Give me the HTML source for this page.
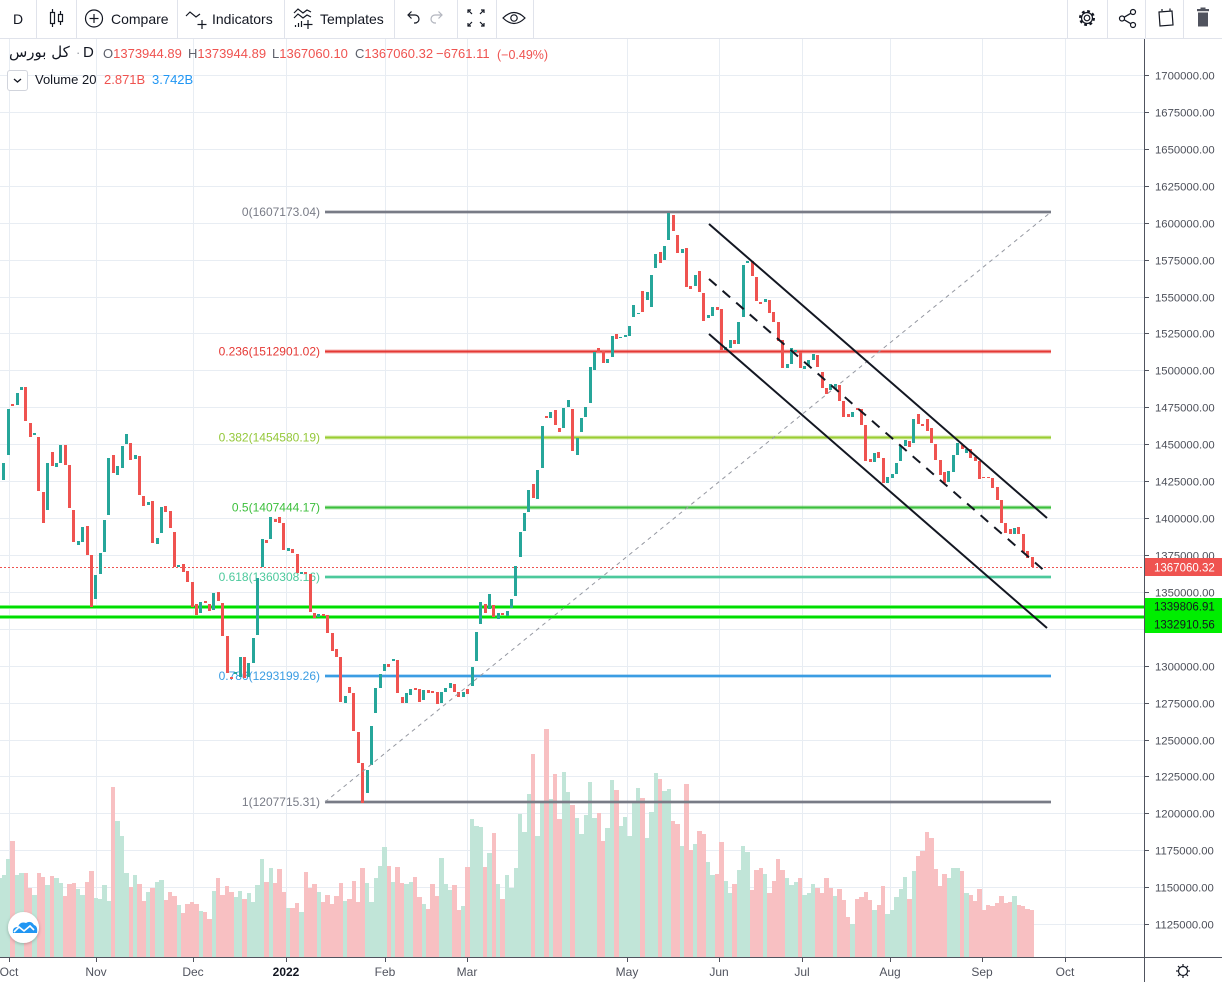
<!DOCTYPE html>
<html><head><meta charset="utf-8">
<style>
*{margin:0;padding:0;box-sizing:border-box}
body{width:1222px;height:982px;overflow:hidden;background:#fff;font-family:"Liberation Sans",sans-serif;position:relative;color:#131722}
svg{position:absolute;left:0;top:0}
#vol{position:absolute;left:-2.7px;top:0;height:957px;display:flex;align-items:flex-end}
#vol i{display:block;flex:none;width:4.385px}
#vol .g{background:#c1e5d8}
#vol .r{background:#f8c0c2}
#cd{position:absolute;left:-2.7px;top:0;display:flex;align-items:flex-start}
#cd i{display:block;flex:none;width:3px;margin:0 0.6925px}
#cd .g{background:#26a69a}
#cd .r{background:#ef5350}
#tb{position:absolute;left:0;top:0;width:1222px;height:39px;background:#fff;border-bottom:1px solid #e0e3eb;font-size:14px}
#tb .t{position:absolute;top:11px;line-height:16px;color:#131722}
#tb .s{position:absolute;top:0;width:1px;height:38px;background:#e0e3eb}
.lg{position:absolute;font-size:13px;line-height:16px;white-space:nowrap}
</style></head><body>

<!-- grid -->
<svg width="1222" height="982">
<g stroke="#e8edf3" stroke-width="1">
<line x1="0" x2="1144" y1="75.5" y2="75.5"/><line x1="0" x2="1144" y1="112.5" y2="112.5"/><line x1="0" x2="1144" y1="149.5" y2="149.5"/><line x1="0" x2="1144" y1="186.5" y2="186.5"/><line x1="0" x2="1144" y1="223.5" y2="223.5"/><line x1="0" x2="1144" y1="260.5" y2="260.5"/><line x1="0" x2="1144" y1="297.5" y2="297.5"/><line x1="0" x2="1144" y1="333.5" y2="333.5"/><line x1="0" x2="1144" y1="370.5" y2="370.5"/><line x1="0" x2="1144" y1="407.5" y2="407.5"/><line x1="0" x2="1144" y1="444.5" y2="444.5"/><line x1="0" x2="1144" y1="481.5" y2="481.5"/><line x1="0" x2="1144" y1="518.5" y2="518.5"/><line x1="0" x2="1144" y1="555.5" y2="555.5"/><line x1="0" x2="1144" y1="592.5" y2="592.5"/><line x1="0" x2="1144" y1="629.5" y2="629.5"/><line x1="0" x2="1144" y1="666.5" y2="666.5"/><line x1="0" x2="1144" y1="703.5" y2="703.5"/><line x1="0" x2="1144" y1="740.5" y2="740.5"/><line x1="0" x2="1144" y1="776.5" y2="776.5"/><line x1="0" x2="1144" y1="813.5" y2="813.5"/><line x1="0" x2="1144" y1="850.5" y2="850.5"/><line x1="0" x2="1144" y1="887.5" y2="887.5"/><line x1="0" x2="1144" y1="924.5" y2="924.5"/>
<line x1="9.5" x2="9.5" y1="39" y2="957"/><line x1="96.5" x2="96.5" y1="39" y2="957"/><line x1="193.5" x2="193.5" y1="39" y2="957"/><line x1="286.5" x2="286.5" y1="39" y2="957"/><line x1="385.5" x2="385.5" y1="39" y2="957"/><line x1="467.5" x2="467.5" y1="39" y2="957"/><line x1="627.5" x2="627.5" y1="39" y2="957"/><line x1="719.5" x2="719.5" y1="39" y2="957"/><line x1="802.5" x2="802.5" y1="39" y2="957"/><line x1="890.5" x2="890.5" y1="39" y2="957"/><line x1="982.5" x2="982.5" y1="39" y2="957"/><line x1="1065.5" x2="1065.5" y1="39" y2="957"/>
</g>
</svg>

<!-- volume -->
<div id="vol">
<i class="g" style="height:79px"></i><i class="g" style="height:82px"></i><i class="g" style="height:98px"></i><i class="r" style="height:116px"></i><i class="g" style="height:82px"></i><i class="g" style="height:84px"></i><i class="r" style="height:84px"></i><i class="r" style="height:69px"></i><i class="g" style="height:62px"></i><i class="r" style="height:84px"></i>
<i class="r" style="height:80px"></i><i class="g" style="height:72px"></i><i class="r" style="height:81px"></i><i class="g" style="height:79px"></i><i class="g" style="height:74px"></i><i class="r" style="height:61px"></i><i class="r" style="height:73px"></i><i class="r" style="height:74px"></i><i class="g" style="height:68px"></i><i class="g" style="height:62px"></i>
<i class="r" style="height:75px"></i><i class="r" style="height:86px"></i><i class="g" style="height:59px"></i><i class="g" style="height:58px"></i><i class="g" style="height:72px"></i><i class="g" style="height:56px"></i><i class="r" style="height:170px"></i><i class="g" style="height:136px"></i><i class="g" style="height:121px"></i><i class="g" style="height:84px"></i>
<i class="r" style="height:70px"></i><i class="g" style="height:82px"></i><i class="r" style="height:73px"></i><i class="r" style="height:56px"></i><i class="g" style="height:65px"></i><i class="r" style="height:69px"></i><i class="g" style="height:75px"></i><i class="g" style="height:77px"></i><i class="r" style="height:57px"></i><i class="r" style="height:65px"></i>
<i class="r" style="height:61px"></i><i class="g" style="height:52px"></i><i class="r" style="height:44px"></i><i class="r" style="height:53px"></i><i class="r" style="height:55px"></i><i class="r" style="height:53px"></i><i class="g" style="height:46px"></i><i class="r" style="height:45px"></i><i class="r" style="height:38px"></i><i class="g" style="height:66px"></i>
<i class="r" style="height:79px"></i><i class="r" style="height:62px"></i><i class="r" style="height:71px"></i><i class="r" style="height:65px"></i><i class="g" style="height:60px"></i><i class="g" style="height:66px"></i><i class="r" style="height:58px"></i><i class="g" style="height:64px"></i><i class="g" style="height:55px"></i><i class="g" style="height:72px"></i>
<i class="g" style="height:98px"></i><i class="r" style="height:75px"></i><i class="g" style="height:89px"></i><i class="r" style="height:74px"></i><i class="r" style="height:88px"></i><i class="r" style="height:65px"></i><i class="g" style="height:49px"></i><i class="r" style="height:49px"></i><i class="r" style="height:54px"></i><i class="g" style="height:45px"></i>
<i class="r" style="height:85px"></i><i class="r" style="height:69px"></i><i class="r" style="height:73px"></i><i class="g" style="height:65px"></i><i class="r" style="height:55px"></i><i class="r" style="height:62px"></i><i class="r" style="height:53px"></i><i class="r" style="height:61px"></i><i class="r" style="height:74px"></i><i class="g" style="height:56px"></i>
<i class="r" style="height:58px"></i><i class="r" style="height:76px"></i><i class="r" style="height:55px"></i><i class="r" style="height:89px"></i><i class="g" style="height:74px"></i><i class="g" style="height:55px"></i><i class="g" style="height:79px"></i><i class="g" style="height:91px"></i><i class="g" style="height:110px"></i><i class="r" style="height:91px"></i>
<i class="g" style="height:75px"></i><i class="r" style="height:90px"></i><i class="r" style="height:74px"></i><i class="g" style="height:73px"></i><i class="g" style="height:75px"></i><i class="r" style="height:80px"></i><i class="r" style="height:60px"></i><i class="g" style="height:53px"></i><i class="r" style="height:48px"></i><i class="r" style="height:73px"></i>
<i class="r" style="height:61px"></i><i class="g" style="height:99px"></i><i class="g" style="height:73px"></i><i class="g" style="height:67px"></i><i class="r" style="height:72px"></i><i class="r" style="height:47px"></i><i class="g" style="height:51px"></i><i class="r" style="height:90px"></i><i class="g" style="height:138px"></i><i class="g" style="height:131px"></i>
<i class="g" style="height:130px"></i><i class="r" style="height:90px"></i><i class="g" style="height:104px"></i><i class="r" style="height:124px"></i><i class="g" style="height:73px"></i><i class="r" style="height:58px"></i><i class="g" style="height:82px"></i><i class="g" style="height:69px"></i><i class="g" style="height:89px"></i><i class="g" style="height:143px"></i>
<i class="g" style="height:125px"></i><i class="g" style="height:163px"></i><i class="r" style="height:203px"></i><i class="g" style="height:121px"></i><i class="g" style="height:156px"></i><i class="r" style="height:228px"></i><i class="g" style="height:158px"></i><i class="r" style="height:183px"></i><i class="r" style="height:138px"></i><i class="g" style="height:185px"></i>
<i class="g" style="height:165px"></i><i class="r" style="height:152px"></i><i class="g" style="height:139px"></i><i class="g" style="height:123px"></i><i class="g" style="height:142px"></i><i class="g" style="height:175px"></i><i class="g" style="height:139px"></i><i class="r" style="height:144px"></i><i class="r" style="height:116px"></i><i class="g" style="height:129px"></i>
<i class="g" style="height:177px"></i><i class="r" style="height:167px"></i><i class="g" style="height:131px"></i><i class="g" style="height:140px"></i><i class="g" style="height:121px"></i><i class="g" style="height:156px"></i><i class="g" style="height:169px"></i><i class="r" style="height:159px"></i><i class="g" style="height:119px"></i><i class="g" style="height:145px"></i>
<i class="g" style="height:184px"></i><i class="r" style="height:178px"></i><i class="g" style="height:166px"></i><i class="g" style="height:168px"></i><i class="r" style="height:136px"></i><i class="r" style="height:133px"></i><i class="g" style="height:111px"></i><i class="r" style="height:173px"></i><i class="r" style="height:107px"></i><i class="g" style="height:113px"></i>
<i class="r" style="height:126px"></i><i class="r" style="height:123px"></i><i class="g" style="height:95px"></i><i class="g" style="height:82px"></i><i class="r" style="height:83px"></i><i class="r" style="height:115px"></i><i class="g" style="height:76px"></i><i class="g" style="height:64px"></i><i class="r" style="height:73px"></i><i class="g" style="height:87px"></i>
<i class="g" style="height:111px"></i><i class="g" style="height:105px"></i><i class="r" style="height:67px"></i><i class="r" style="height:87px"></i><i class="r" style="height:89px"></i><i class="g" style="height:83px"></i><i class="r" style="height:64px"></i><i class="r" style="height:76px"></i><i class="r" style="height:98px"></i><i class="r" style="height:87px"></i>
<i class="g" style="height:79px"></i><i class="g" style="height:72px"></i><i class="g" style="height:75px"></i><i class="r" style="height:79px"></i><i class="g" style="height:62px"></i><i class="g" style="height:64px"></i><i class="g" style="height:73px"></i><i class="r" style="height:69px"></i><i class="r" style="height:64px"></i><i class="r" style="height:79px"></i>
<i class="r" style="height:69px"></i><i class="g" style="height:61px"></i><i class="r" style="height:68px"></i><i class="r" style="height:57px"></i><i class="r" style="height:40px"></i><i class="g" style="height:33px"></i><i class="r" style="height:58px"></i><i class="r" style="height:60px"></i><i class="r" style="height:65px"></i><i class="r" style="height:57px"></i>
<i class="g" style="height:47px"></i><i class="r" style="height:52px"></i><i class="r" style="height:71px"></i><i class="g" style="height:43px"></i><i class="g" style="height:47px"></i><i class="g" style="height:60px"></i><i class="g" style="height:68px"></i><i class="g" style="height:80px"></i><i class="r" style="height:58px"></i><i class="g" style="height:86px"></i>
<i class="r" style="height:101px"></i><i class="r" style="height:106px"></i><i class="r" style="height:125px"></i><i class="r" style="height:119px"></i><i class="r" style="height:88px"></i><i class="r" style="height:71px"></i><i class="r" style="height:83px"></i><i class="g" style="height:79px"></i><i class="g" style="height:89px"></i><i class="g" style="height:89px"></i>
<i class="r" style="height:86px"></i><i class="g" style="height:64px"></i><i class="r" style="height:62px"></i><i class="r" style="height:56px"></i><i class="r" style="height:68px"></i><i class="r" style="height:47px"></i><i class="r" style="height:52px"></i><i class="r" style="height:51px"></i><i class="r" style="height:54px"></i><i class="r" style="height:61px"></i>
<i class="r" style="height:54px"></i><i class="r" style="height:55px"></i><i class="g" style="height:61px"></i><i class="r" style="height:52px"></i><i class="r" style="height:51px"></i><i class="r" style="height:48px"></i><i class="r" style="height:47px"></i>
</div>

<!-- fib levels & horizontal lines -->
<svg width="1222" height="982" font-family="Liberation Sans" font-size="12">
<g stroke-width="4" opacity="0.35">
<line x1="325" x2="1051" y1="212" y2="212" stroke="#787b86"/>
<line x1="325" x2="1051" y1="351.5" y2="351.5" stroke="#e53935"/>
<line x1="325" x2="1051" y1="437.5" y2="437.5" stroke="#9acd32"/>
<line x1="325" x2="1051" y1="507.5" y2="507.5" stroke="#3cbf3c"/>
<line x1="325" x2="1051" y1="577" y2="577" stroke="#4cc99c"/>
<line x1="325" x2="1051" y1="676" y2="676" stroke="#3b9de3"/>
<line x1="325" x2="1051" y1="802" y2="802" stroke="#787b86"/>
</g>
<g stroke-width="2">
<line x1="325" x2="1051" y1="212" y2="212" stroke="#787b86"/>
<line x1="325" x2="1051" y1="351.5" y2="351.5" stroke="#e53935"/>
<line x1="325" x2="1051" y1="437.5" y2="437.5" stroke="#9acd32"/>
<line x1="325" x2="1051" y1="507.5" y2="507.5" stroke="#3cbf3c"/>
<line x1="325" x2="1051" y1="577" y2="577" stroke="#4cc99c"/>
<line x1="325" x2="1051" y1="676" y2="676" stroke="#3b9de3"/>
<line x1="325" x2="1051" y1="802" y2="802" stroke="#787b86"/>
</g>
<g text-anchor="end">
<text x="320" y="216" fill="#787b86">0(1607173.04)</text>
<text x="320" y="355.5" fill="#e53935">0.236(1512901.02)</text>
<text x="320" y="441.5" fill="#94c83a">0.382(1454580.19)</text>
<text x="320" y="511.5" fill="#3cbf3c">0.5(1407444.17)</text>
<text x="320" y="581" fill="#4cc99c">0.618(1360308.16)</text>
<text x="320" y="680" fill="#3b9de3">0.786(1293199.26)</text>
<text x="320" y="806" fill="#787b86">1(1207715.31)</text>
</g>
<line x1="0" x2="1144" y1="607" y2="607" stroke="#7ef27e" stroke-width="4"/>
<line x1="0" x2="1144" y1="617" y2="617" stroke="#7ef27e" stroke-width="4"/>
<line x1="0" x2="1144" y1="607" y2="607" stroke="#00dd00" stroke-width="2"/>
<line x1="0" x2="1144" y1="617" y2="617" stroke="#00dd00" stroke-width="2"/>
<line x1="0" x2="1144" y1="567.5" y2="567.5" stroke="#ef5350" stroke-width="1" stroke-dasharray="2 2"/>
</svg>

<!-- candles -->
<div id="cd">
<i style="height:0"></i>
<i class="g" style="margin-top:463px;height:17px"></i><i class="g" style="margin-top:409px;height:46px"></i><i class="r" style="margin-top:404px;height:2px"></i><i class="g" style="margin-top:393px;height:12px"></i><i class="g" style="margin-top:387px;height:3px"></i><i class="r" style="margin-top:387px;height:34px"></i><i class="r" style="margin-top:423px;height:14px"></i><i class="g" style="margin-top:433px;height:2px"></i><i class="r" style="margin-top:437px;height:54px"></i>
<i class="r" style="margin-top:492px;height:31px"></i><i class="g" style="margin-top:463px;height:47px"></i><i class="r" style="margin-top:452px;height:14px"></i><i class="g" style="margin-top:463px;height:4px"></i><i class="g" style="margin-top:445px;height:18px"></i><i class="r" style="margin-top:445px;height:20px"></i><i class="r" style="margin-top:465px;height:43px"></i><i class="r" style="margin-top:510px;height:32px"></i><i class="g" style="margin-top:541px;height:4px"></i><i class="g" style="margin-top:527px;height:15px"></i>
<i class="r" style="margin-top:526px;height:29px"></i><i class="r" style="margin-top:555px;height:52px"></i><i class="g" style="margin-top:575px;height:24px"></i><i class="g" style="margin-top:553px;height:21px"></i><i class="g" style="margin-top:520px;height:32px"></i><i class="g" style="margin-top:458px;height:57px"></i><i class="r" style="margin-top:455px;height:18px"></i><i class="g" style="margin-top:466px;height:9px"></i><i class="g" style="margin-top:446px;height:22px"></i><i class="g" style="margin-top:434px;height:10px"></i>
<i class="r" style="margin-top:443px;height:17px"></i><i class="g" style="margin-top:455px;height:4px"></i><i class="r" style="margin-top:456px;height:39px"></i><i class="r" style="margin-top:496px;height:10px"></i><i class="g" style="margin-top:502px;height:3px"></i><i class="r" style="margin-top:501px;height:42px"></i><i class="g" style="margin-top:538px;height:6px"></i><i class="g" style="margin-top:507px;height:26px"></i><i class="r" style="margin-top:506px;height:6px"></i><i class="r" style="margin-top:511px;height:17px"></i>
<i class="r" style="margin-top:532px;height:35px"></i><i class="g" style="margin-top:565px;height:2px"></i><i class="r" style="margin-top:564px;height:8px"></i><i class="r" style="margin-top:571px;height:11px"></i><i class="r" style="margin-top:582px;height:25px"></i><i class="r" style="margin-top:604px;height:11px"></i><i class="g" style="margin-top:602px;height:11px"></i><i class="r" style="margin-top:601px;height:2px"></i><i class="r" style="margin-top:604px;height:7px"></i><i class="g" style="margin-top:593px;height:17px"></i>
<i class="r" style="margin-top:592px;height:9px"></i><i class="r" style="margin-top:603px;height:33px"></i><i class="r" style="margin-top:636px;height:37px"></i><i class="r" style="margin-top:677px;height:2px"></i><i class="g" style="margin-top:672px;height:2px"></i><i class="g" style="margin-top:657px;height:20px"></i><i class="r" style="margin-top:657px;height:21px"></i><i class="g" style="margin-top:663px;height:14px"></i><i class="g" style="margin-top:638px;height:25px"></i><i class="g" style="margin-top:578px;height:57px"></i>
<i class="g" style="margin-top:539px;height:28px"></i><i class="r" style="margin-top:540px;height:3px"></i><i class="g" style="margin-top:517px;height:22px"></i><i class="r" style="margin-top:519px;height:3px"></i><i class="r" style="margin-top:517px;height:6px"></i><i class="r" style="margin-top:523px;height:27px"></i><i class="g" style="margin-top:548px;height:3px"></i><i class="r" style="margin-top:549px;height:4px"></i><i class="r" style="margin-top:554px;height:19px"></i><i class="g" style="margin-top:572px;height:2px"></i>
<i class="r" style="margin-top:572px;height:2px"></i><i class="r" style="margin-top:574px;height:38px"></i><i class="r" style="margin-top:613px;height:5px"></i><i class="g" style="margin-top:614px;height:3px"></i><i class="r" style="margin-top:614px;height:2px"></i><i class="r" style="margin-top:615px;height:18px"></i><i class="r" style="margin-top:633px;height:18px"></i><i class="r" style="margin-top:649px;height:8px"></i><i class="r" style="margin-top:657px;height:45px"></i><i class="g" style="margin-top:696px;height:7px"></i>
<i class="r" style="margin-top:687px;height:6px"></i><i class="r" style="margin-top:693px;height:38px"></i><i class="r" style="margin-top:732px;height:31px"></i><i class="r" style="margin-top:763px;height:40px"></i><i class="g" style="margin-top:770px;height:23px"></i><i class="g" style="margin-top:726px;height:39px"></i><i class="g" style="margin-top:688px;height:25px"></i><i class="g" style="margin-top:674px;height:14px"></i><i class="g" style="margin-top:664px;height:7px"></i><i class="r" style="margin-top:664px;height:3px"></i>
<i class="g" style="margin-top:659px;height:2px"></i><i class="r" style="margin-top:660px;height:33px"></i><i class="r" style="margin-top:697px;height:6px"></i><i class="g" style="margin-top:693px;height:10px"></i><i class="g" style="margin-top:689px;height:6px"></i><i class="r" style="margin-top:688px;height:2px"></i><i class="r" style="margin-top:689px;height:13px"></i><i class="g" style="margin-top:690px;height:10px"></i><i class="r" style="margin-top:690px;height:3px"></i><i class="r" style="margin-top:691px;height:2px"></i>
<i class="r" style="margin-top:692px;height:12px"></i><i class="g" style="margin-top:692px;height:11px"></i><i class="g" style="margin-top:688px;height:4px"></i><i class="g" style="margin-top:683px;height:5px"></i><i class="r" style="margin-top:684px;height:8px"></i><i class="r" style="margin-top:692px;height:5px"></i><i class="g" style="margin-top:692px;height:5px"></i><i class="r" style="margin-top:689px;height:5px"></i><i class="g" style="margin-top:667px;height:19px"></i><i class="g" style="margin-top:632px;height:29px"></i>
<i class="g" style="margin-top:602px;height:22px"></i><i class="r" style="margin-top:604px;height:9px"></i><i class="g" style="margin-top:594px;height:15px"></i><i class="r" style="margin-top:605px;height:12px"></i><i class="g" style="margin-top:613px;height:6px"></i><i class="r" style="margin-top:613px;height:2px"></i><i class="g" style="margin-top:611px;height:5px"></i><i class="g" style="margin-top:599px;height:9px"></i><i class="g" style="margin-top:566px;height:30px"></i><i class="g" style="margin-top:532px;height:25px"></i>
<i class="g" style="margin-top:513px;height:18px"></i><i class="g" style="margin-top:490px;height:22px"></i><i class="r" style="margin-top:484px;height:14px"></i><i class="g" style="margin-top:470px;height:29px"></i><i class="g" style="margin-top:426px;height:42px"></i><i class="r" style="margin-top:416px;height:2px"></i><i class="g" style="margin-top:412px;height:6px"></i><i class="r" style="margin-top:410px;height:15px"></i><i class="r" style="margin-top:428px;height:4px"></i><i class="g" style="margin-top:408px;height:20px"></i>
<i class="g" style="margin-top:400px;height:7px"></i><i class="r" style="margin-top:409px;height:42px"></i><i class="g" style="margin-top:438px;height:17px"></i><i class="g" style="margin-top:418px;height:14px"></i><i class="g" style="margin-top:407px;height:10px"></i><i class="g" style="margin-top:367px;height:36px"></i><i class="g" style="margin-top:352px;height:18px"></i><i class="r" style="margin-top:348px;height:4px"></i><i class="r" style="margin-top:351px;height:12px"></i><i class="g" style="margin-top:359px;height:4px"></i>
<i class="g" style="margin-top:336px;height:21px"></i><i class="r" style="margin-top:334px;height:5px"></i><i class="g" style="margin-top:337px;height:1px"></i><i class="g" style="margin-top:335px;height:2px"></i><i class="g" style="margin-top:326px;height:10px"></i><i class="g" style="margin-top:305px;height:12px"></i><i class="g" style="margin-top:313px;height:1px"></i><i class="r" style="margin-top:291px;height:21px"></i><i class="g" style="margin-top:292px;height:8px"></i><i class="g" style="margin-top:275px;height:32px"></i>
<i class="g" style="margin-top:254px;height:14px"></i><i class="r" style="margin-top:252px;height:11px"></i><i class="g" style="margin-top:246px;height:14px"></i><i class="g" style="margin-top:213px;height:27px"></i><i class="r" style="margin-top:215px;height:16px"></i><i class="r" style="margin-top:235px;height:18px"></i><i class="g" style="margin-top:249px;height:4px"></i><i class="r" style="margin-top:248px;height:39px"></i><i class="r" style="margin-top:286px;height:3px"></i><i class="g" style="margin-top:275px;height:11px"></i>
<i class="r" style="margin-top:271px;height:21px"></i><i class="r" style="margin-top:293px;height:28px"></i><i class="g" style="margin-top:315px;height:3px"></i><i class="g" style="margin-top:307px;height:9px"></i><i class="r" style="margin-top:307px;height:3px"></i><i class="r" style="margin-top:309px;height:41px"></i><i class="g" style="margin-top:347px;height:3px"></i><i class="g" style="margin-top:340px;height:8px"></i><i class="r" style="margin-top:340px;height:4px"></i><i class="g" style="margin-top:322px;height:22px"></i>
<i class="g" style="margin-top:265px;height:52px"></i><i class="g" style="margin-top:261px;height:2px"></i><i class="r" style="margin-top:261px;height:15px"></i><i class="r" style="margin-top:277px;height:24px"></i><i class="r" style="margin-top:302px;height:2px"></i><i class="g" style="margin-top:299px;height:3px"></i><i class="r" style="margin-top:300px;height:13px"></i><i class="r" style="margin-top:312px;height:10px"></i><i class="r" style="margin-top:322px;height:19px"></i><i class="r" style="margin-top:340px;height:28px"></i>
<i class="g" style="margin-top:364px;height:4px"></i><i class="g" style="margin-top:348px;height:16px"></i><i class="g" style="margin-top:350px;height:2px"></i><i class="r" style="margin-top:352px;height:16px"></i><i class="g" style="margin-top:366px;height:3px"></i><i class="g" style="margin-top:360px;height:6px"></i><i class="g" style="margin-top:354px;height:6px"></i><i class="r" style="margin-top:355px;height:12px"></i><i class="r" style="margin-top:372px;height:16px"></i><i class="r" style="margin-top:388px;height:6px"></i>
<i class="g" style="margin-top:384px;height:6px"></i><i class="g" style="margin-top:384px;height:5px"></i><i class="r" style="margin-top:385px;height:16px"></i><i class="r" style="margin-top:401px;height:16px"></i><i class="r" style="margin-top:414px;height:3px"></i><i class="g" style="margin-top:412px;height:5px"></i><i class="r" style="margin-top:408px;height:2px"></i><i class="r" style="margin-top:409px;height:16px"></i><i class="r" style="margin-top:425px;height:36px"></i><i class="r" style="margin-top:459px;height:3px"></i>
<i class="g" style="margin-top:453px;height:9px"></i><i class="r" style="margin-top:452px;height:6px"></i><i class="r" style="margin-top:458px;height:25px"></i><i class="g" style="margin-top:477px;height:6px"></i><i class="g" style="margin-top:474px;height:4px"></i><i class="g" style="margin-top:463px;height:11px"></i><i class="g" style="margin-top:446px;height:15px"></i><i class="g" style="margin-top:440px;height:6px"></i><i class="r" style="margin-top:441px;height:6px"></i><i class="g" style="margin-top:419px;height:24px"></i>
<i class="r" style="margin-top:414px;height:10px"></i><i class="r" style="margin-top:424px;height:2px"></i><i class="r" style="margin-top:419px;height:12px"></i><i class="r" style="margin-top:428px;height:15px"></i><i class="r" style="margin-top:444px;height:16px"></i><i class="r" style="margin-top:460px;height:15px"></i><i class="r" style="margin-top:472px;height:11px"></i><i class="g" style="margin-top:471px;height:11px"></i><i class="g" style="margin-top:455px;height:17px"></i><i class="g" style="margin-top:443px;height:12px"></i>
<i class="r" style="margin-top:445px;height:4px"></i><i class="g" style="margin-top:449px;height:4px"></i><i class="r" style="margin-top:449px;height:9px"></i><i class="r" style="margin-top:457px;height:4px"></i><i class="r" style="margin-top:461px;height:18px"></i><i class="r" style="margin-top:477px;height:1px"></i><i class="r" style="margin-top:477px;height:1px"></i><i class="r" style="margin-top:478px;height:10px"></i><i class="r" style="margin-top:487px;height:13px"></i><i class="r" style="margin-top:500px;height:23px"></i>
<i class="r" style="margin-top:523px;height:10px"></i><i class="r" style="margin-top:529px;height:5px"></i><i class="g" style="margin-top:528px;height:6px"></i><i class="r" style="margin-top:527px;height:7px"></i><i class="r" style="margin-top:534px;height:18px"></i><i class="r" style="margin-top:551px;height:7px"></i><i class="r" style="margin-top:557px;height:10px"></i>
</div>

<!-- overlays: channel, diagonal, axes -->
<svg width="1222" height="982" font-family="Liberation Sans">
<line x1="325" y1="802" x2="1051" y2="212" stroke="#9598a1" stroke-width="1" stroke-dasharray="4 4"/>
<line x1="709" y1="224" x2="1047" y2="518" stroke="#131722" stroke-width="2"/>
<line x1="709" y1="334" x2="1047" y2="628" stroke="#131722" stroke-width="2"/>
<line x1="709" y1="279" x2="1047" y2="573" stroke="#131722" stroke-width="2" stroke-dasharray="10 8"/>

<!-- price axis -->
<rect x="1145" y="39" width="77" height="918" fill="#fff"/>
<rect x="0" y="958" width="1222" height="24" fill="#fff"/>
<line x1="1144.5" y1="39" x2="1144.5" y2="982" stroke="#50535e" stroke-width="1"/>
<line x1="0" y1="957.5" x2="1222" y2="957.5" stroke="#50535e" stroke-width="1"/>
<g stroke="#50535e" stroke-width="1">
<line x1="1145" x2="1149" y1="75.5" y2="75.5"/><line x1="1145" x2="1149" y1="112.5" y2="112.5"/><line x1="1145" x2="1149" y1="149.5" y2="149.5"/><line x1="1145" x2="1149" y1="186.5" y2="186.5"/><line x1="1145" x2="1149" y1="223.5" y2="223.5"/><line x1="1145" x2="1149" y1="260.5" y2="260.5"/><line x1="1145" x2="1149" y1="297.5" y2="297.5"/><line x1="1145" x2="1149" y1="333.5" y2="333.5"/><line x1="1145" x2="1149" y1="370.5" y2="370.5"/><line x1="1145" x2="1149" y1="407.5" y2="407.5"/><line x1="1145" x2="1149" y1="444.5" y2="444.5"/><line x1="1145" x2="1149" y1="481.5" y2="481.5"/><line x1="1145" x2="1149" y1="518.5" y2="518.5"/><line x1="1145" x2="1149" y1="555.5" y2="555.5"/><line x1="1145" x2="1149" y1="592.5" y2="592.5"/><line x1="1145" x2="1149" y1="666.5" y2="666.5"/><line x1="1145" x2="1149" y1="703.5" y2="703.5"/><line x1="1145" x2="1149" y1="740.5" y2="740.5"/><line x1="1145" x2="1149" y1="776.5" y2="776.5"/><line x1="1145" x2="1149" y1="813.5" y2="813.5"/><line x1="1145" x2="1149" y1="850.5" y2="850.5"/><line x1="1145" x2="1149" y1="887.5" y2="887.5"/><line x1="1145" x2="1149" y1="924.5" y2="924.5"/>
<line x1="9.5" x2="9.5" y1="958" y2="962"/><line x1="96.5" x2="96.5" y1="958" y2="962"/><line x1="193.5" x2="193.5" y1="958" y2="962"/><line x1="286.5" x2="286.5" y1="958" y2="962"/><line x1="385.5" x2="385.5" y1="958" y2="962"/><line x1="467.5" x2="467.5" y1="958" y2="962"/><line x1="627.5" x2="627.5" y1="958" y2="962"/><line x1="719.5" x2="719.5" y1="958" y2="962"/><line x1="802.5" x2="802.5" y1="958" y2="962"/><line x1="890.5" x2="890.5" y1="958" y2="962"/><line x1="982.5" x2="982.5" y1="958" y2="962"/><line x1="1065.5" x2="1065.5" y1="958" y2="962"/>
</g>
<g font-size="11.3" fill="#4c4f59">
<text x="1155" y="79.5">1700000.00</text><text x="1155" y="116.5">1675000.00</text><text x="1155" y="153.5">1650000.00</text><text x="1155" y="190.5">1625000.00</text><text x="1155" y="227.5">1600000.00</text><text x="1155" y="264.5">1575000.00</text><text x="1155" y="301.5">1550000.00</text><text x="1155" y="337.5">1525000.00</text><text x="1155" y="374.5">1500000.00</text><text x="1155" y="411.5">1475000.00</text><text x="1155" y="448.5">1450000.00</text><text x="1155" y="485.5">1425000.00</text><text x="1155" y="522.5">1400000.00</text><text x="1155" y="559.5">1375000.00</text><text x="1155" y="596.5">1350000.00</text><text x="1155" y="670.5">1300000.00</text><text x="1155" y="707.5">1275000.00</text><text x="1155" y="744.5">1250000.00</text><text x="1155" y="780.5">1225000.00</text><text x="1155" y="817.5">1200000.00</text><text x="1155" y="854.5">1175000.00</text><text x="1155" y="891.5">1150000.00</text><text x="1155" y="928.5">1125000.00</text>
</g>
<rect x="1145" y="558" width="77" height="18" fill="#ef5350"/>
<text x="1154" y="571.5" font-size="11.5" fill="#fff">1367060.32</text>
<rect x="1145" y="598" width="77" height="35" fill="#00ee00"/>
<text x="1154" y="610.5" font-size="11.5" fill="#131722">1339806.91</text>
<text x="1154" y="628.5" font-size="11.5" fill="#131722">1332910.56</text>

<!-- time axis -->
<g font-size="12" fill="#50535e" text-anchor="middle">
<text x="9" y="976">Oct</text><text x="96" y="976">Nov</text><text x="193" y="976">Dec</text><text x="286" y="976" font-weight="bold" fill="#131722">2022</text><text x="385" y="976">Feb</text><text x="467" y="976">Mar</text><text x="627" y="976">May</text><text x="719" y="976">Jun</text><text x="802" y="976">Jul</text><text x="890" y="976">Aug</text><text x="982" y="976">Sep</text><text x="1065" y="976">Oct</text>
</g>
<!-- bottom gear -->
<g stroke="#131722" stroke-width="1.2" fill="none">
<circle cx="1183" cy="971" r="4.5"/>
<line x1="1183" y1="964" x2="1183" y2="966"/><line x1="1183" y1="976" x2="1183" y2="978"/><line x1="1176" y1="971" x2="1178" y2="971"/><line x1="1188" y1="971" x2="1190" y2="971"/>
<line x1="1178" y1="966" x2="1179.5" y2="967.5"/><line x1="1186.5" y1="974.5" x2="1188" y2="976"/><line x1="1188" y1="966" x2="1186.5" y2="967.5"/><line x1="1179.5" y1="974.5" x2="1178" y2="976"/>
</g>
<!-- logo -->
<defs><filter id="sh" x="-50%" y="-50%" width="200%" height="200%"><feDropShadow dx="0" dy="1" stdDeviation="1.5" flood-color="#000" flood-opacity="0.25"/></filter></defs>
<circle cx="23.5" cy="927.5" r="15.5" fill="#fff" filter="url(#sh)"/>
<path d="M13 933 q-1-6 5-6 q2-6 8-4 q5-3 8 2 q4 1 3 8 z" fill="#2196f3"/>
<polyline points="14,932 19,927 24,931 30,926 34,930" fill="none" stroke="#fff" stroke-width="1.6"/>
</svg>

<!-- legend -->
<div class="lg" style="left:9px;top:44px;font-family:'DejaVu Sans',sans-serif;font-size:15px;color:#131722">کل بورس</div>
<div class="lg" style="left:76px;top:45px;color:#9598a1">·</div>
<div class="lg" style="left:83px;top:45px;font-size:15px;color:#131722">D</div>
<div class="lg" style="left:103px;top:46px"><span style="color:#5d606b">O</span><span style="color:#ef5350">1373944.89</span></div>
<div class="lg" style="left:188px;top:46px"><span style="color:#5d606b">H</span><span style="color:#ef5350">1373944.89</span></div>
<div class="lg" style="left:272px;top:46px"><span style="color:#5d606b">L</span><span style="color:#ef5350">1367060.10</span></div>
<div class="lg" style="left:355px;top:46px"><span style="color:#5d606b">C</span><span style="color:#ef5350">1367060.32</span></div>
<div class="lg" style="left:436px;top:46px;color:#ef5350">−6761.11</div>
<div class="lg" style="left:497px;top:47px;font-size:12.5px;color:#ef5350">(−0.49%)</div>
<div style="position:absolute;left:7px;top:70px;width:21px;height:21px;border:1px solid #d1d4dc;border-radius:3px;background:#fff"></div>
<svg width="40" height="100" style="left:0;top:0"><polyline points="14,79 17.5,82 21,79" fill="none" stroke="#131722" stroke-width="1.3"/></svg>
<div class="lg" style="left:35px;top:72px;color:#131722">Volume 20</div>
<div class="lg" style="left:104px;top:72px;color:#ef5350">2.871B</div>
<div class="lg" style="left:152px;top:72px;color:#2196f3">3.742B</div>

<!-- toolbar -->
<div id="tb">
<div class="t" style="left:13px">D</div>
<div class="s" style="left:36px"></div>
<div class="s" style="left:76px"></div>
<div class="t" style="left:111px">Compare</div>
<div class="s" style="left:177px"></div>
<div class="t" style="left:212px">Indicators</div>
<div class="s" style="left:284px"></div>
<div class="t" style="left:320px">Templates</div>
<div class="s" style="left:394px"></div>
<div class="s" style="left:457px"></div>
<div class="s" style="left:496px"></div>
<div class="s" style="left:533px"></div>
<div class="s" style="left:1067px"></div>
<div class="s" style="left:1107px"></div>
<div class="s" style="left:1145px"></div>
<div class="s" style="left:1183px"></div>
<svg width="1222" height="38" style="left:0;top:0">
<g fill="none" stroke="#131722" stroke-width="1.2">
<line x1="52.5" y1="9" x2="52.5" y2="27"/><rect x="50.5" y="12.5" width="4" height="11" fill="#fff"/>
<line x1="60.5" y1="11" x2="60.5" y2="25"/><rect x="58.5" y="14.5" width="4" height="7" fill="#fff"/>
<circle cx="94" cy="18.5" r="8.5"/><line x1="94" y1="14" x2="94" y2="23"/><line x1="89.5" y1="18.5" x2="98.5" y2="18.5"/>
<polyline points="186,16 190,12 196,17 200,14"/><line x1="202" y1="20" x2="202" y2="29"/><line x1="197.5" y1="24.5" x2="206.5" y2="24.5"/>
<polyline points="294,13 298,9 303,13 307,10 311,12"/><polyline points="294,18 298,14 303,18 307,15 311,17"/>
<line x1="295.5" y1="25" x2="295.5" y2="27"/><line x1="298.5" y1="23" x2="298.5" y2="27"/><line x1="301.5" y1="21" x2="301.5" y2="27"/>
<line x1="308" y1="20" x2="308" y2="29"/><line x1="303.5" y1="24.5" x2="312.5" y2="24.5"/>
<path d="M409 15 h6 a4 4 0 0 1 0 8 h-1"/><polyline points="411.5,11.5 408,15 411.5,18.5"/>
<g stroke="#b2b5be"><path d="M441 15 h-6 a4 4 0 0 0 0 8 h1"/><polyline points="438.5,11.5 442,15 438.5,18.5"/></g>
<polyline points="468,13 468,10 471,10"/><line x1="468" y1="10" x2="472" y2="14"/>
<polyline points="481,10 484,10 484,13"/><line x1="484" y1="10" x2="480" y2="14"/>
<polyline points="468,23 468,26 471,26"/><line x1="468" y1="26" x2="472" y2="22"/>
<polyline points="481,26 484,26 484,23"/><line x1="484" y1="26" x2="480" y2="22"/>
<path d="M503 18 q11 -11 22 0 q-11 11 -22 0 z"/><circle cx="514" cy="18" r="3.2"/>
<circle cx="1087" cy="18" r="2.8"/><circle cx="1087" cy="18" r="6.5" stroke-dasharray="2.6 2.5" stroke-width="3"/><circle cx="1087" cy="18" r="5.5"/>
<circle cx="1122" cy="18.5" r="2.5"/><circle cx="1133" cy="12" r="2.5"/><circle cx="1133" cy="25" r="2.5"/>
<line x1="1124.2" y1="17.2" x2="1130.8" y2="13.3"/><line x1="1124.2" y1="19.8" x2="1130.8" y2="23.7"/>
<path d="M1159 12 l13 -1 l1 14 l-13 1 z"/><path d="M1162 11 v-2 M1170 10.5 v-2"/>
</g>
<rect x="1197" y="9" width="12" height="2.2" fill="#50535e"/>
<rect x="1200.5" y="7.5" width="5" height="2" fill="#50535e"/>
<rect x="1198" y="12.5" width="10" height="14" fill="#50535e"/>
</svg>
</div>

</body></html>
